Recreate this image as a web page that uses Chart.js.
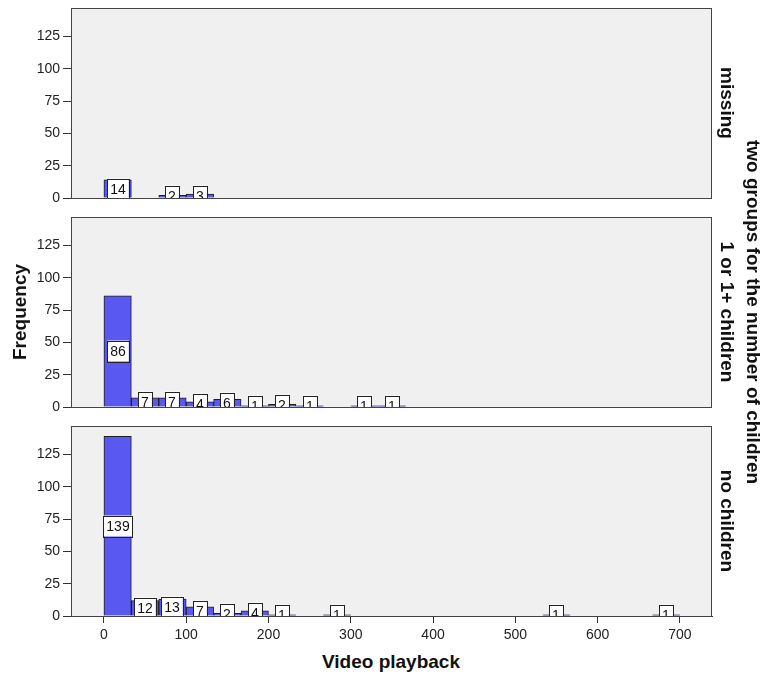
<!DOCTYPE html>
<html>
<head>
<meta charset="utf-8">
<script src="https://cdn.jsdelivr.net/npm/chart.js@4"></script>
<style>
  body { margin: 0; background: #fff; font-family: "Liberation Sans", Arial, sans-serif; }
  #wrap { position: relative; width: 763px; height: 679px; }
  .panel { position: absolute; left: 0; width: 763px; }
  .title { position: absolute; font-weight: bold; font-size: 19px; color: #111; white-space: nowrap; }
  .rot90 { transform: translate(-50%, -50%) rotate(90deg); }
  .rotm90 { transform: translate(-50%, -50%) rotate(-90deg); }
  .flat { transform: translate(-50%, -50%); }
</style>
</head>
<body>
<div id="wrap">
  <div class="panel" style="top:0px;height:206px"><canvas id="panelMissing"></canvas></div>
  <div class="panel" style="top:209px;height:206px"><canvas id="panelKids"></canvas></div>
  <div class="panel" style="top:418px;height:228px"><canvas id="panelNoKids"></canvas></div>

  <div class="title rotm90" style="left:20px;top:312px">Frequency</div>
  <div class="title flat" style="left:391px;top:662px">Video playback</div>
  <div class="title rot90" style="left:727px;top:103px">missing</div>
  <div class="title rot90" style="left:727px;top:312px">1 or 1+ children</div>
  <div class="title rot90" style="left:727px;top:521px">no children</div>
  <div class="title rot90" style="left:753px;top:312px">two groups for the number of children</div>
</div>

<script>
// histogram bins: 21 bins of width 33.3 from 0 to 700
const binWidth = 100 / 3;
const binCenters = Array.from({ length: 21 }, (_, i) => (i + 0.5) * binWidth);

// counts per bin
const countsMissing = [14, 0, 2, 3, 0, 0, 0, 0, 0, 0, 0, 0, 0, 0, 0, 0, 0, 0, 0, 0, 0];
const countsKids    = [86, 7, 7, 4, 6, 1, 2, 1, 0, 1, 1, 0, 0, 0, 0, 0, 0, 0, 0, 0, 0];
const countsNoKids  = [139, 12, 13, 7, 2, 4, 1, 0, 1, 0, 0, 0, 0, 0, 0, 0, 1, 0, 0, 0, 1];

const xTicks = [0, 100, 200, 300, 400, 500, 600, 700];
const yTicks = [0, 25, 50, 75, 100, 125];

const fontFamily = '"Liberation Sans", Arial, sans-serif';
const barBlue = '#5959F2';

const panelFrame = {
  id: 'panelFrame',
  beforeDraw(chart) {
    const a = chart.chartArea, c = chart.ctx;
    c.save();
    c.fillStyle = '#F0F0F0';
    c.fillRect(a.left, a.top, a.right - a.left, a.bottom - a.top);
    c.restore();
  },
  afterDraw(chart) {
    const a = chart.chartArea, c = chart.ctx;
    c.save();
    c.strokeStyle = '#444';
    c.lineWidth = 1;
    c.strokeRect(a.left + 0.5, a.top + 0.5, a.right - a.left - 1, a.bottom - a.top);
    c.restore();
  }
};

// white boxes with the count, centred on the middle of each bar
const valueBoxes = {
  id: 'valueBoxes',
  afterDatasetsDraw(chart) {
    const a = chart.chartArea, c = chart.ctx;
    const meta = chart.getDatasetMeta(0);
    const vals = chart.data.datasets[0].data;
    c.save();
    c.beginPath();
    c.rect(a.left, a.top, a.right - a.left, a.bottom - a.top);
    c.clip();
    c.font = '14px ' + fontFamily;
    c.textAlign = 'center';
    c.textBaseline = 'middle';
    meta.data.forEach((bar, i) => {
      const v = vals[i].y;
      if (!v) return;
      const txt = String(v);
      const w = c.measureText(txt).width + 6;
      const h = 21;
      const cx = Math.round(bar.x);
      const cy = Math.round((bar.y + bar.base) / 2);
      c.fillStyle = '#fff';
      c.fillRect(cx - w / 2, cy - h / 2, w, h);
      c.strokeStyle = '#222';
      c.lineWidth = 1;
      c.strokeRect(Math.round(cx - w / 2) + 0.5, Math.round(cy - h / 2) + 0.5, Math.round(w), h);
      c.fillStyle = '#111';
      c.fillText(txt, cx, cy + 1);
    });
    c.restore();
  }
};

function makePanel(id, counts, showX) {
  new Chart(document.getElementById(id), {
    type: 'bar',
    data: {
      datasets: [{
        data: binCenters.map((x, i) => ({ x: x, y: counts[i] })),
        backgroundColor: counts.map(v => v ? barBlue : 'rgba(0,0,0,0)'),
        borderColor: '#1e1e1e',
        borderWidth: counts.map(v => v ? 1 : 0),
        barPercentage: 1,
        categoryPercentage: 1
      }]
    },
    options: {
      responsive: true,
      maintainAspectRatio: false,
      animation: false,
      layout: { padding: { top: 8, bottom: showX ? 0 : 8, left: 0, right: 51 } },
      plugins: {
        legend: { display: false },
        tooltip: { enabled: false }
      },
      scales: {
        x: {
          type: 'linear',
          min: -40,
          max: 739,
          offset: false,
          display: showX,
          afterBuildTicks: s => { s.ticks = xTicks.map(v => ({ value: v })); },
          afterFit: s => {
            if (!showX) return;
            s.height = 30; s.paddingLeft = 0; s.paddingRight = 0;
          },
          grid: { drawOnChartArea: false, offset: false, tickLength: 7, color: '#333' },
          border: { color: '#333' },
          ticks: {
            color: '#222',
            padding: 4,
            maxRotation: 0,
            autoSkip: false,
            font: { size: 14, family: fontFamily }
          }
        },
        y: {
          min: 0,
          max: 147,
          afterBuildTicks: s => { s.ticks = yTicks.map(v => ({ value: v })); },
          afterFit: s => { s.width = 71; s.paddingTop = 0; s.paddingBottom = 0; },
          grid: { drawOnChartArea: false, tickLength: 8, color: '#333' },
          border: { color: '#333' },
          ticks: {
            color: '#222',
            padding: 3,
            font: { size: 14, family: fontFamily }
          }
        }
      }
    },
    plugins: [panelFrame, valueBoxes]
  });
}

makePanel('panelMissing', countsMissing, false);
makePanel('panelKids', countsKids, false);
makePanel('panelNoKids', countsNoKids, true);
</script>
</body>
</html>
